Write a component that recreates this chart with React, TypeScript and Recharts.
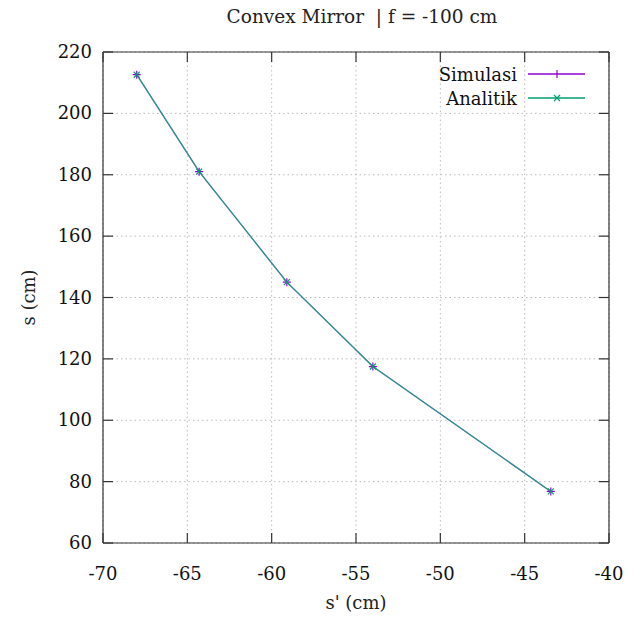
import { LineChart, Line, XAxis, YAxis, CartesianGrid } from "recharts";

const sPrime = [-68.0, -64.3, -59.1, -54.0, -43.45];
const simulasi = [212.6, 181, 145, 117.5, 76.8];
const analitik = [212.6, 181, 145, 117.5, 76.8];
const xTicks = [-70, -65, -60, -55, -50, -45, -40];
const yTicks = [60, 80, 100, 120, 140, 160, 180, 200, 220];

const data = sPrime.map((x, i) => ({ x, sim: simulasi[i], ana: analitik[i] }));

const FONT = "'DejaVu Serif', serif";
const PURPLE = "#9400d3";
const TEAL = "#009e73";
const AXIS = "#333";

// tickSize=1 + tickMargin=7: the label anchor sits 8px outside the axis line
const LeftTick = ({ x, y, payload }: any) => (
  <g>
    <line x1={x + 8} x2={x + 18} y1={y} y2={y} stroke={AXIS} strokeWidth={1.2} />
    <text x={x - 3} y={y + 6} textAnchor="end" fontSize={18} fontFamily={FONT} fill="#111">
      {payload.value}
    </text>
  </g>
);

const BottomTick = ({ x, y, payload }: any) => (
  <g>
    <line x1={x} x2={x} y1={y - 8} y2={y - 18} stroke={AXIS} strokeWidth={1.2} />
    <text x={x} y={y + 29} textAnchor="middle" fontSize={18} fontFamily={FONT} fill="#111">
      {payload.value}
    </text>
  </g>
);

// mirrored axes: tickSize=1, tickMargin=0
const TopTick = ({ x, y }: any) => (
  <line x1={x} x2={x} y1={y + 1} y2={y + 11} stroke={AXIS} strokeWidth={1.2} />
);

const RightTick = ({ x, y }: any) => (
  <line x1={x - 1} x2={x - 11} y1={y} y2={y} stroke={AXIS} strokeWidth={1.2} />
);

const PlusDot = ({ cx, cy }: any) => (
  <path d={`M${cx - 4},${cy}H${cx + 4}M${cx},${cy - 4}V${cy + 4}`} stroke={PURPLE} strokeWidth={1.2} />
);

const CrossDot = ({ cx, cy }: any) => (
  <path
    d={`M${cx - 3},${cy - 3}L${cx + 3},${cy + 3}M${cx - 3},${cy + 3}L${cx + 3},${cy - 3}`}
    stroke={TEAL}
    strokeWidth={1.2}
  />
);

const LegendBox = () => (
  <g>
    <text x={517} y={81} textAnchor="end" fontSize={18} fontFamily={FONT} fill="#111">
      Simulasi
    </text>
    <line x1={528} x2={585} y1={74} y2={74} stroke={PURPLE} strokeWidth={1.5} />
    <path d="M557,70V78" stroke={PURPLE} strokeWidth={1.2} />
    <text x={517} y={105} textAnchor="end" fontSize={18} fontFamily={FONT} fill="#111">
      Analitik
    </text>
    <line x1={528} x2={585} y1={98} y2={98} stroke={TEAL} strokeWidth={1.5} />
    <path d="M554,95L560,101M554,101L560,95" stroke={TEAL} strokeWidth={1.2} />
  </g>
);

export default function App() {
  return (
    <div style={{ position: "absolute", left: 0, top: 0, width: 640, height: 623, background: "#fff" }}>
      <LineChart width={640} height={623} data={data} margin={{ top: 51, right: 30, left: 43, bottom: 20 }}>
        <text x={362} y={23} textAnchor="middle" fontSize={18.5} fontFamily={FONT} fill="#222" style={{ whiteSpace: "pre" }}>
          Convex Mirror  | f = -100 cm
        </text>
        <CartesianGrid xAxisId="b" yAxisId="l" stroke="#bbb" strokeDasharray="1.5 3" strokeWidth={1} />
        <XAxis
          xAxisId="b"
          dataKey="x"
          type="number"
          domain={[-70, -40]}
          ticks={xTicks}
          height={60}
          tickSize={1}
          tickMargin={7}
          tickLine={false}
          axisLine={{ stroke: AXIS, strokeWidth: 1.2 }}
          tick={<BottomTick />}
          interval={0}
          label={{ value: "s' (cm)", position: "insideBottom", offset: -6, fontSize: 18, fontFamily: FONT, fill: "#222" }}
        />
        <XAxis
          xAxisId="t"
          orientation="top"
          dataKey="x"
          type="number"
          domain={[-70, -40]}
          ticks={xTicks}
          height={1}
          tickSize={1}
          tickMargin={0}
          tickLine={false}
          axisLine={{ stroke: AXIS, strokeWidth: 1.2 }}
          tick={<TopTick />}
          interval={0}
        />
        <YAxis
          yAxisId="l"
          type="number"
          domain={[60, 220]}
          ticks={yTicks}
          width={60}
          tickSize={1}
          tickMargin={7}
          tickLine={false}
          axisLine={{ stroke: AXIS, strokeWidth: 1.2 }}
          tick={<LeftTick />}
          interval={0}
          label={{ value: "s (cm)", angle: -90, position: "insideLeft", offset: -14, fontSize: 18, fontFamily: FONT, fill: "#222", style: { textAnchor: "middle" } }}
        />
        <YAxis
          yAxisId="r"
          orientation="right"
          type="number"
          domain={[60, 220]}
          ticks={yTicks}
          width={1}
          tickSize={1}
          tickMargin={0}
          tickLine={false}
          axisLine={{ stroke: AXIS, strokeWidth: 1.2 }}
          tick={<RightTick />}
          interval={0}
        />
        <LegendBox />
        <Line
          xAxisId="b"
          yAxisId="l"
          dataKey="sim"
          name="Simulasi"
          stroke={PURPLE}
          strokeOpacity={0.6}
          strokeWidth={1.3}
          dot={<PlusDot />}
          isAnimationActive={false}
        />
        <Line
          xAxisId="t"
          yAxisId="r"
          dataKey="ana"
          name="Analitik"
          stroke={TEAL}
          strokeOpacity={0.8}
          strokeWidth={1.3}
          dot={<CrossDot />}
          isAnimationActive={false}
        />
      </LineChart>
    </div>
  );
}
